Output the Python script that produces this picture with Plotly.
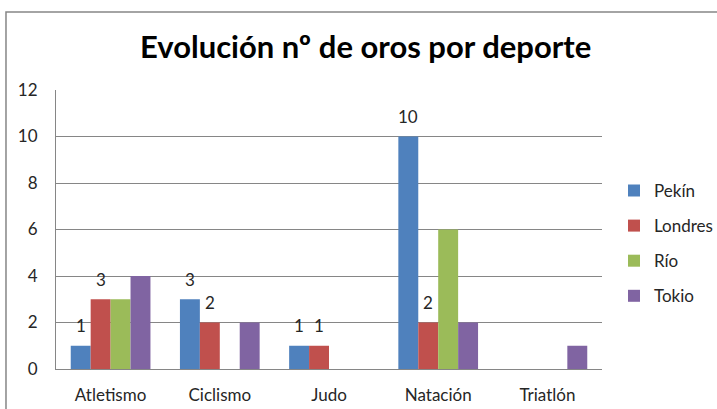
import plotly.graph_objects as go

# datos
deportes = ["Atletismo", "Ciclismo", "Judo", "Natación", "Triatlón"]
pekin = [1, 3, 1, 10, None]
londres = [3, 2, 1, 2, None]
rio = [3, 0, 0, 6, 0]
tokio = [4, 2, 0, 2, 1]
y_ticks = [0, 2, 4, 6, 8, 10, 12]

series = [
    ("Pekín", pekin, "#4F81BD", True),
    ("Londres", londres, "#C0504D", True),
    ("Río", rio, "#9BBB59", False),
    ("Tokio", tokio, "#8064A2", False),
]

FONT = "Lato, 'Open Sans', sans-serif"
GRID = "#868686"
W, H = 717, 409
M = dict(l=56, r=115, t=90, b=40)
BARGAP = 0.27

fig = go.Figure()
for name, vals, color, labels in series:
    fig.add_trace(go.Bar(
        x=deportes, y=vals, name=name, legendgroup=name,
        marker=dict(color=color, line=dict(width=0)),
    ))

# etiquetas de datos (solo Pekín y Londres), un poco separadas de la barra
plot_w = W - M["l"] - M["r"]
bar_w = plot_w / len(deportes) * (1 - BARGAP) / len(series)
for i, (name, vals, color, labels) in enumerate(series):
    if not labels:
        continue
    for cat, v in zip(deportes, vals):
        if not v:
            continue
        fig.add_annotation(x=cat, y=v, text=str(v), showarrow=False,
                           xshift=(i - (len(series) - 1) / 2) * bar_w,
                           yanchor="middle", yshift=20,
                           font=dict(size=17, color="#262626", family=FONT))

fig.update_layout(
    width=W, height=H,
    margin=dict(**M, autoexpand=False),
    paper_bgcolor="white", plot_bgcolor="white",
    barmode="group", bargap=BARGAP, bargroupgap=0,
    font=dict(family=FONT, size=17, color="#262626"),
    title=dict(text="<b>Evolución nº de oros por deporte</b>",
               x=0.51, xanchor="center", y=0.885, yanchor="middle",
               font=dict(size=31, color="#000000", family=FONT)),
    legend=dict(x=1.022, y=0.45, xanchor="left", yanchor="middle",
                font=dict(size=17, color="#262626"),
                itemwidth=30, tracegroupgap=10),
    showlegend=True,
)
fig.update_xaxes(showline=True, linecolor=GRID, linewidth=1, automargin=False,
                 ticks="", showgrid=False, tickfont=dict(size=17),
                 ticklabelstandoff=11)
fig.update_yaxes(range=[0, 12], tickvals=y_ticks, showline=True, automargin=False,
                 linecolor=GRID, linewidth=1, showgrid=True,
                 gridcolor=GRID, gridwidth=1, zeroline=False,
                 ticks="", tickfont=dict(size=17), ticklabelstandoff=14)

# marco del área del gráfico
fig.add_shape(type="rect", xref="paper", yref="paper",
              x0=-0.0916, x1=1.22, y0=-0.16, y1=1.2796,
              line=dict(color=GRID, width=1.5), layer="below")

# quitar el margen por defecto del body
fig.write_html("out.html", config={"displayModeBar": False},
               post_script="document.body.style.margin='0px';")
